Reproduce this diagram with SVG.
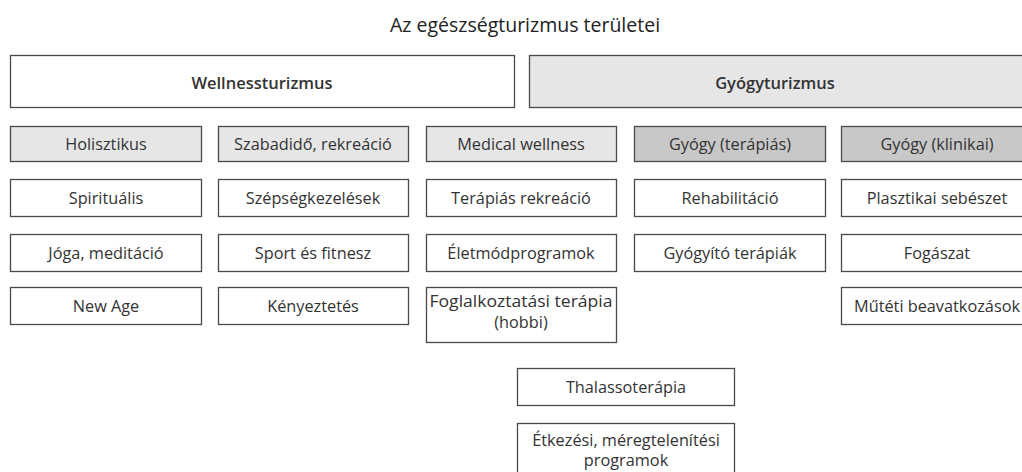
<svg xmlns="http://www.w3.org/2000/svg" width="1022" height="472" viewBox="0 0 1022 472">
<style>
.b{stroke:#4a4a4a;stroke-width:1.3;fill:#fff}
.l{fill:#e6e6e7}
.d{fill:#c8c8c8}
text{font-family:"Open Sans","Noto Sans",sans-serif;font-size:16.3px;fill:#333;text-anchor:middle}
.h{font-size:16.5px;font-weight:600}
.t{font-size:19.5px;fill:#222}
</style>
<rect width="1022" height="472" fill="#fff"/>
<text class="t" x="525" y="32">Az egészségturizmus területei</text>
<g id="wellness"><rect class="b" x="10.5" y="55.5" width="504" height="52"/><text class="h" x="262" y="89">Wellnessturizmus</text></g>
<g id="gyogyturizmus"><rect class="b l" x="529.5" y="55.5" width="500" height="52"/><text class="h" x="775" y="89">Gyógyturizmus</text></g>

<g id="holisztikus"><rect class="b l" x="10.5" y="126.5" width="191" height="35"/><text x="106" y="149.5">Holisztikus</text></g>
<g id="szabadido"><rect class="b l" x="218.5" y="126.5" width="190" height="35"/><text x="313" y="149.5">Szabadidő, rekreáció</text></g>
<g id="medical"><rect class="b l" x="426.5" y="126.5" width="190" height="35"/><text x="521" y="149.5">Medical wellness</text></g>
<g id="gyogy-terapias"><rect class="b d" x="634.5" y="126.5" width="191" height="35"/><text x="730" y="149.5">Gyógy (terápiás)</text></g>
<g id="gyogy-klinikai"><rect class="b d" x="841.5" y="126.5" width="191" height="35"/><text x="937" y="149.5">Gyógy (klinikai)</text></g>

<g id="spiritualis"><rect class="b" x="10.5" y="179.5" width="191" height="37"/><text x="106" y="203.5">Spirituális</text></g>
<g id="szepseg"><rect class="b" x="218.5" y="179.5" width="190" height="37"/><text x="313" y="203.5">Szépségkezelések</text></g>
<g id="terapias-rekreacio"><rect class="b" x="426.5" y="179.5" width="190" height="37"/><text x="521" y="203.5">Terápiás rekreáció</text></g>
<g id="rehabilitacio"><rect class="b" x="634.5" y="179.5" width="191" height="37"/><text x="730" y="203.5">Rehabilitáció</text></g>
<g id="plasztikai"><rect class="b" x="841.5" y="179.5" width="191" height="37"/><text x="937" y="203.5">Plasztikai sebészet</text></g>

<g id="joga"><rect class="b" x="10.5" y="234.5" width="191" height="37"/><text x="106" y="258.5">Jóga, meditáció</text></g>
<g id="sport"><rect class="b" x="218.5" y="234.5" width="190" height="37"/><text x="313" y="258.5">Sport és fitnesz</text></g>
<g id="eletmod"><rect class="b" x="426.5" y="234.5" width="190" height="37"/><text x="521" y="258.5">Életmódprogramok</text></g>
<g id="gyogyito"><rect class="b" x="634.5" y="234.5" width="191" height="37"/><text x="730" y="258.5">Gyógyító terápiák</text></g>
<g id="fogaszat"><rect class="b" x="841.5" y="234.5" width="191" height="37"/><text x="937" y="258.5">Fogászat</text></g>

<g id="newage"><rect class="b" x="10.5" y="287.5" width="191" height="37"/><text x="106" y="311.5">New Age</text></g>
<g id="kenyeztetes"><rect class="b" x="218.5" y="287.5" width="190" height="37"/><text x="313" y="311.5">Kényeztetés</text></g>
<g id="foglalkoztatasi"><rect class="b" x="426.5" y="287.5" width="190" height="55"/><text x="521" y="307" textLength="183" lengthAdjust="spacingAndGlyphs">Foglalkoztatási terápia</text><text x="521" y="328">(hobbi)</text></g>
<g id="muteti"><rect class="b" x="841.5" y="287.5" width="191" height="37"/><text x="937" y="311.5">Műtéti beavatkozások</text></g>

<g id="thalasso"><rect class="b" x="517.5" y="368.5" width="217" height="37"/><text x="626" y="392.5">Thalassoterápia</text></g>
<g id="etkezesi"><rect class="b" x="517.5" y="423.5" width="217" height="55"/><text x="626" y="446">Étkezési, méregtelenítési</text><text x="626" y="466">programok</text></g>
<g id="connectors"/>
</svg>
